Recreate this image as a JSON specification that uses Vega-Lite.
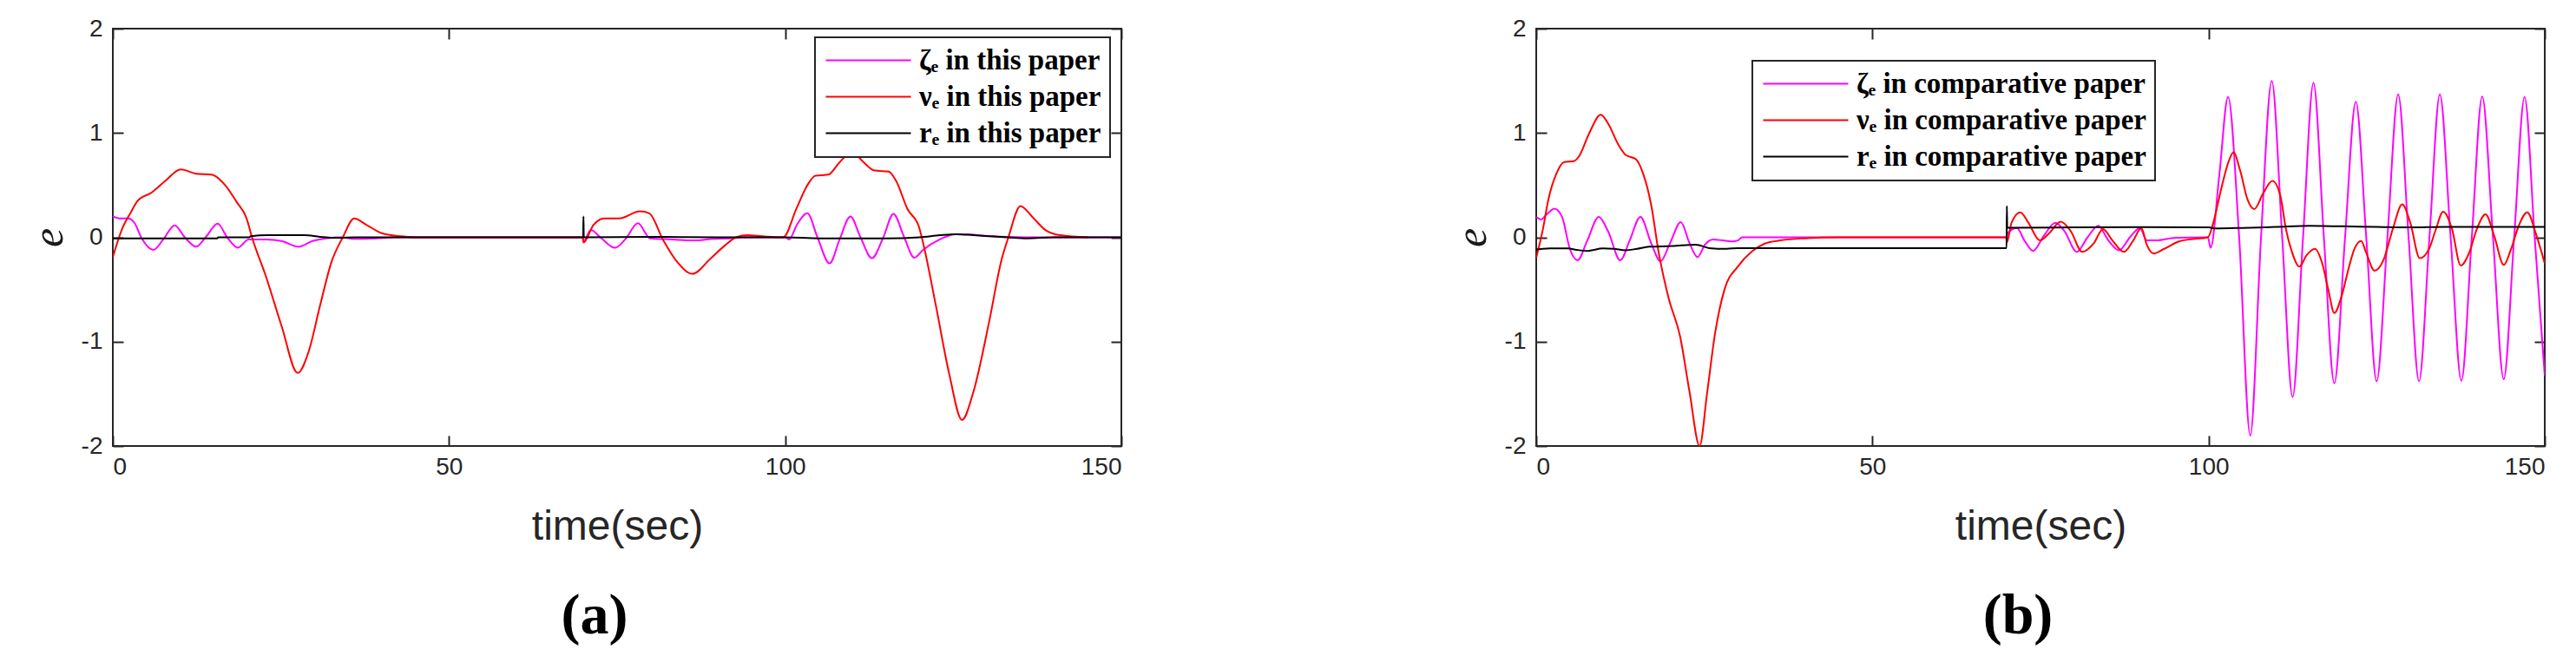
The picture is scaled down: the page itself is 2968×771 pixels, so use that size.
{
  "$schema": "https://vega.github.io/schema/vega-lite/v6.json",
  "background": "white",
  "padding": {"left": 30, "top": 18, "right": 5, "bottom": 0},
  "spacing": 376,
  "config": {
    "view": {"stroke": "#262626", "strokeWidth": 2},
    "axis": {"grid": false, "domain": false, "tickColor": "#262626", "tickWidth": 2, "tickSize": -12,
             "labelFont": "Liberation Sans", "labelFontSize": 28, "labelColor": "#262626",
             "titleFont": "Liberation Sans", "titleFontSize": 48, "titleFontWeight": "normal", "titleColor": "#262626"},
    "legend": {"strokeWidth": 2}
  },
  "resolve": {"scale": {"color": "independent"}},
  "datasets": {
    "a": [
      {"s":"z","t":0,"e":0.2},{"s":"z","t":1.15,"e":0.18},{"s":"z","t":2.3,"e":0.18},{"s":"z","t":3.2,"e":0.14},{"s":"z","t":4.3,"e":-0.01},{"s":"z","t":6.05,"e":-0.12},{"s":"z","t":7.5,"e":-0.02},{"s":"z","t":9.2,"e":0.115},{"s":"z","t":10.7,"e":0},{"s":"z","t":12.4,"e":-0.09},{"s":"z","t":13.8,"e":0},{"s":"z","t":15.6,"e":0.13},{"s":"z","t":17,"e":0},{"s":"z","t":18.6,"e":-0.1},{"s":"z","t":20.2,"e":-0.02},{"s":"z","t":22.8,"e":-0.02},{"s":"z","t":25.1,"e":-0.035},{"s":"z","t":27.6,"e":-0.09},{"s":"z","t":29.7,"e":-0.035},{"s":"z","t":31.7,"e":-0.01},{"s":"z","t":34,"e":0},{"s":"z","t":36,"e":-0.015},{"s":"z","t":39.2,"e":-0.01},{"s":"z","t":42,"e":0},{"s":"z","t":69.9,"e":0},{"s":"z","t":70,"e":-0.04},{"s":"z","t":71.1,"e":0.07},{"s":"z","t":72.5,"e":0},{"s":"z","t":74.7,"e":-0.1},{"s":"z","t":76.2,"e":-0.02},{"s":"z","t":78.1,"e":0.135},{"s":"z","t":79.9,"e":-0.01},{"s":"z","t":83.2,"e":-0.02},{"s":"z","t":86.3,"e":-0.03},{"s":"z","t":89.3,"e":-0.015},{"s":"z","t":91.6,"e":-0.01},{"s":"z","t":94,"e":0},{"s":"z","t":100,"e":0},{"s":"z","t":100.6,"e":-0.02},{"s":"z","t":101.7,"e":0.115},{"s":"z","t":103.3,"e":0.23},{"s":"z","t":104.8,"e":0},{"s":"z","t":106.6,"e":-0.25},{"s":"z","t":108.1,"e":-0.02},{"s":"z","t":109.7,"e":0.2},{"s":"z","t":111.2,"e":0},{"s":"z","t":112.9,"e":-0.2},{"s":"z","t":114.6,"e":0},{"s":"z","t":116.1,"e":0.225},{"s":"z","t":117.7,"e":0},{"s":"z","t":119.2,"e":-0.195},{"s":"z","t":120.5,"e":-0.12},{"s":"z","t":123,"e":-0.02},{"s":"z","t":125.2,"e":0.03},{"s":"z","t":126.9,"e":0.03},{"s":"z","t":129.7,"e":0.015},{"s":"z","t":133.1,"e":0.005},{"s":"z","t":136,"e":0},{"s":"z","t":150,"e":0},
      {"s":"n","t":0,"e":-0.19},{"s":"n","t":1.44,"e":0.09},{"s":"n","t":2.6,"e":0.23},{"s":"n","t":3.7,"e":0.35},{"s":"n","t":5.8,"e":0.43},{"s":"n","t":7.8,"e":0.54},{"s":"n","t":10.1,"e":0.65},{"s":"n","t":12.4,"e":0.61},{"s":"n","t":14.7,"e":0.6},{"s":"n","t":16.7,"e":0.5},{"s":"n","t":18.4,"e":0.34},{"s":"n","t":19.9,"e":0.18},{"s":"n","t":20.7,"e":0},{"s":"n","t":22.8,"e":-0.38},{"s":"n","t":25.1,"e":-0.85},{"s":"n","t":27.5,"e":-1.3},{"s":"n","t":29.1,"e":-1.1},{"s":"n","t":30.8,"e":-0.66},{"s":"n","t":32.5,"e":-0.24},{"s":"n","t":34.2,"e":0},{"s":"n","t":35.9,"e":0.18},{"s":"n","t":37.7,"e":0.12},{"s":"n","t":40,"e":0.04},{"s":"n","t":42.9,"e":0.01},{"s":"n","t":45,"e":0},{"s":"n","t":69.9,"e":0},{"s":"n","t":70,"e":-0.05},{"s":"n","t":71.5,"e":0.12},{"s":"n","t":73.1,"e":0.18},{"s":"n","t":75.3,"e":0.18},{"s":"n","t":78.4,"e":0.25},{"s":"n","t":79.8,"e":0.23},{"s":"n","t":81.8,"e":-0.02},{"s":"n","t":84,"e":-0.24},{"s":"n","t":86.2,"e":-0.35},{"s":"n","t":88.8,"e":-0.21},{"s":"n","t":91,"e":-0.08},{"s":"n","t":92.7,"e":0},{"s":"n","t":94.4,"e":0.02},{"s":"n","t":96.6,"e":0.01},{"s":"n","t":99.7,"e":0},{"s":"n","t":101.7,"e":0.28},{"s":"n","t":103.4,"e":0.51},{"s":"n","t":104.5,"e":0.59},{"s":"n","t":106.4,"e":0.6},{"s":"n","t":108.1,"e":0.72},{"s":"n","t":110,"e":0.82},{"s":"n","t":111.5,"e":0.73},{"s":"n","t":113.3,"e":0.64},{"s":"n","t":115.4,"e":0.63},{"s":"n","t":116.5,"e":0.54},{"s":"n","t":118.2,"e":0.27},{"s":"n","t":119.9,"e":0.1},{"s":"n","t":120.5,"e":-0.05},{"s":"n","t":122.4,"e":-0.65},{"s":"n","t":124.4,"e":-1.31},{"s":"n","t":126.3,"e":-1.75},{"s":"n","t":128,"e":-1.48},{"s":"n","t":130.3,"e":-0.82},{"s":"n","t":132.2,"e":-0.21},{"s":"n","t":133.2,"e":0},{"s":"n","t":135,"e":0.3},{"s":"n","t":136.7,"e":0.2},{"s":"n","t":138.7,"e":0.07},{"s":"n","t":140.9,"e":0.02},{"s":"n","t":145.1,"e":0},
      {"s":"r","t":0,"e":-0.01},{"s":"r","t":15.5,"e":-0.01},{"s":"r","t":15.7,"e":0},{"s":"r","t":20.3,"e":0},{"s":"r","t":20.5,"e":0.01},{"s":"r","t":23,"e":0.02},{"s":"r","t":28.5,"e":0.02},{"s":"r","t":30.8,"e":0.005},{"s":"r","t":33.7,"e":-0.005},{"s":"r","t":36,"e":0},{"s":"r","t":69.95,"e":0},{"s":"r","t":70,"e":0.2},{"s":"r","t":70.05,"e":0},{"s":"r","t":80,"e":0.005},{"s":"r","t":90,"e":0},{"s":"r","t":100,"e":0},{"s":"r","t":105,"e":-0.01},{"s":"r","t":115,"e":-0.01},{"s":"r","t":120,"e":0},{"s":"r","t":123,"e":0.02},{"s":"r","t":125.5,"e":0.03},{"s":"r","t":128,"e":0.02},{"s":"r","t":133,"e":0},{"s":"r","t":136,"e":-0.01},{"s":"r","t":140,"e":0},{"s":"r","t":150,"e":0}
    ],
    "b": [
      {"s":"z","t":0,"e":0.195},{"s":"z","t":0.7,"e":0.17},{"s":"z","t":1.55,"e":0.22},{"s":"z","t":2.7,"e":0.275},{"s":"z","t":3.85,"e":0.195},{"s":"z","t":5,"e":-0.11},{"s":"z","t":6.15,"e":-0.22},{"s":"z","t":7.6,"e":-0.03},{"s":"z","t":9.3,"e":0.195},{"s":"z","t":10.7,"e":0.056},{"s":"z","t":12.5,"e":-0.22},{"s":"z","t":13.9,"e":-0.03},{"s":"z","t":15.5,"e":0.195},{"s":"z","t":17.1,"e":-0.056},{"s":"z","t":18.5,"e":-0.23},{"s":"z","t":19.9,"e":-0.056},{"s":"z","t":21.5,"e":0.145},{"s":"z","t":22.8,"e":-0.056},{"s":"z","t":24,"e":-0.19},{"s":"z","t":25.1,"e":-0.07},{"s":"z","t":26.3,"e":-0.02},{"s":"z","t":27.7,"e":-0.03},{"s":"z","t":29.1,"e":-0.04},{"s":"z","t":30,"e":-0.03},{"s":"z","t":30.6,"e":0},{"s":"z","t":69.9,"e":0},{"s":"z","t":70,"e":-0.03},{"s":"z","t":70.1,"e":0.04},{"s":"z","t":71.5,"e":0.09},{"s":"z","t":72.6,"e":-0.03},{"s":"z","t":73.9,"e":-0.13},{"s":"z","t":75.5,"e":0.015},{"s":"z","t":77.2,"e":0.14},{"s":"z","t":78.6,"e":0.056},{"s":"z","t":80.4,"e":-0.14},{"s":"z","t":82,"e":0},{"s":"z","t":83.6,"e":0.11},{"s":"z","t":85.1,"e":-0.03},{"s":"z","t":86.7,"e":-0.125},{"s":"z","t":88.3,"e":0},{"s":"z","t":89.8,"e":0.09},{"s":"z","t":90.8,"e":-0.03},{"s":"z","t":92.2,"e":-0.03},{"s":"z","t":95.1,"e":-0.005},{"s":"z","t":99.9,"e":0},{"s":"z","t":100.3,"e":-0.1},{"s":"z","t":101.6,"e":0.6},{"s":"z","t":102.9,"e":1.345},{"s":"z","t":104.55,"e":0},{"s":"z","t":106.2,"e":-1.9},{"s":"z","t":107.8,"e":0},{"s":"z","t":109.4,"e":1.5},{"s":"z","t":110.95,"e":0},{"s":"z","t":112.5,"e":-1.53},{"s":"z","t":114.05,"e":0},{"s":"z","t":115.6,"e":1.48},{"s":"z","t":117.15,"e":0},{"s":"z","t":118.7,"e":-1.4},{"s":"z","t":120.3,"e":0},{"s":"z","t":121.9,"e":1.3},{"s":"z","t":123.45,"e":0},{"s":"z","t":125,"e":-1.38},{"s":"z","t":126.6,"e":0},{"s":"z","t":128.2,"e":1.37},{"s":"z","t":129.75,"e":0},{"s":"z","t":131.3,"e":-1.38},{"s":"z","t":132.85,"e":0},{"s":"z","t":134.4,"e":1.37},{"s":"z","t":136,"e":0},{"s":"z","t":137.6,"e":-1.375},{"s":"z","t":139.15,"e":0},{"s":"z","t":140.7,"e":1.35},{"s":"z","t":142.3,"e":0},{"s":"z","t":143.9,"e":-1.36},{"s":"z","t":145.45,"e":0},{"s":"z","t":147,"e":1.345},{"s":"z","t":148.5,"e":0},{"s":"z","t":150,"e":-1.325},
      {"s":"n","t":0,"e":-0.195},{"s":"n","t":1,"e":0.08},{"s":"n","t":1.8,"e":0.36},{"s":"n","t":3,"e":0.61},{"s":"n","t":4.1,"e":0.72},{"s":"n","t":5.6,"e":0.73},{"s":"n","t":6.4,"e":0.78},{"s":"n","t":7.9,"e":1},{"s":"n","t":9.6,"e":1.175},{"s":"n","t":10.7,"e":1.09},{"s":"n","t":12.2,"e":0.89},{"s":"n","t":13.3,"e":0.79},{"s":"n","t":14.8,"e":0.75},{"s":"n","t":15.9,"e":0.61},{"s":"n","t":17.1,"e":0.31},{"s":"n","t":18.2,"e":-0.14},{"s":"n","t":19.7,"e":-0.585},{"s":"n","t":21.4,"e":-0.95},{"s":"n","t":22.8,"e":-1.48},{"s":"n","t":24.3,"e":-2},{"s":"n","t":25.4,"e":-1.5},{"s":"n","t":26.6,"e":-0.92},{"s":"n","t":28,"e":-0.5},{"s":"n","t":30,"e":-0.28},{"s":"n","t":32,"e":-0.14},{"s":"n","t":34,"e":-0.06},{"s":"n","t":36.3,"e":-0.03},{"s":"n","t":39.8,"e":-0.01},{"s":"n","t":44.9,"e":0},{"s":"n","t":69.9,"e":0},{"s":"n","t":70,"e":-0.05},{"s":"n","t":70.7,"e":0.14},{"s":"n","t":72,"e":0.24},{"s":"n","t":73.2,"e":0.14},{"s":"n","t":74.9,"e":-0.03},{"s":"n","t":76.3,"e":0.04},{"s":"n","t":78,"e":0.15},{"s":"n","t":79.5,"e":0.06},{"s":"n","t":81.2,"e":-0.14},{"s":"n","t":82.9,"e":-0.06},{"s":"n","t":84.3,"e":0.08},{"s":"n","t":85.7,"e":-0.03},{"s":"n","t":87.4,"e":-0.14},{"s":"n","t":88.8,"e":-0.03},{"s":"n","t":90,"e":0.09},{"s":"n","t":90.8,"e":-0.07},{"s":"n","t":91.8,"e":-0.155},{"s":"n","t":93.4,"e":-0.11},{"s":"n","t":95.6,"e":-0.04},{"s":"n","t":97.9,"e":-0.015},{"s":"n","t":99.9,"e":0},{"s":"n","t":100.7,"e":0.14},{"s":"n","t":101.9,"e":0.47},{"s":"n","t":103,"e":0.73},{"s":"n","t":103.7,"e":0.815},{"s":"n","t":104.7,"e":0.64},{"s":"n","t":105.8,"e":0.36},{"s":"n","t":106.8,"e":0.27},{"s":"n","t":108.1,"e":0.42},{"s":"n","t":109.5,"e":0.54},{"s":"n","t":110.7,"e":0.39},{"s":"n","t":111.5,"e":0.08},{"s":"n","t":112.4,"e":-0.14},{"s":"n","t":113.5,"e":-0.28},{"s":"n","t":114.6,"e":-0.17},{"s":"n","t":115.8,"e":-0.11},{"s":"n","t":116.9,"e":-0.25},{"s":"n","t":117.8,"e":-0.5},{"s":"n","t":118.7,"e":-0.725},{"s":"n","t":119.8,"e":-0.56},{"s":"n","t":120.9,"e":-0.28},{"s":"n","t":121.7,"e":-0.11},{"s":"n","t":122.7,"e":-0.035},{"s":"n","t":123.4,"e":-0.14},{"s":"n","t":124.7,"e":-0.32},{"s":"n","t":126,"e":-0.22},{"s":"n","t":127.4,"e":0.08},{"s":"n","t":128.8,"e":0.315},{"s":"n","t":130,"e":0.14},{"s":"n","t":131.4,"e":-0.2},{"s":"n","t":132.8,"e":-0.11},{"s":"n","t":133.7,"e":0.056},{"s":"n","t":134.9,"e":0.245},{"s":"n","t":136.2,"e":0.08},{"s":"n","t":137.5,"e":-0.27},{"s":"n","t":138.8,"e":-0.14},{"s":"n","t":139.9,"e":0.08},{"s":"n","t":141.2,"e":0.22},{"s":"n","t":142.5,"e":0.01},{"s":"n","t":143.9,"e":-0.265},{"s":"n","t":145,"e":-0.11},{"s":"n","t":146.1,"e":0.106},{"s":"n","t":147.4,"e":0.24},{"s":"n","t":148.7,"e":0.03},{"s":"n","t":150,"e":-0.25},
      {"s":"r","t":0,"e":-0.117},{"s":"r","t":2,"e":-0.106},{"s":"r","t":4.7,"e":-0.106},{"s":"r","t":6,"e":-0.12},{"s":"r","t":7.6,"e":-0.13},{"s":"r","t":9.9,"e":-0.106},{"s":"r","t":11.5,"e":-0.11},{"s":"r","t":13.3,"e":-0.125},{"s":"r","t":15,"e":-0.11},{"s":"r","t":16.8,"e":-0.09},{"s":"r","t":20.2,"e":-0.084},{"s":"r","t":23.7,"e":-0.07},{"s":"r","t":24.5,"e":-0.08},{"s":"r","t":25.7,"e":-0.103},{"s":"r","t":28.3,"e":-0.11},{"s":"r","t":30,"e":-0.103},{"s":"r","t":69.95,"e":-0.103},{"s":"r","t":70,"e":0.3},{"s":"r","t":70.05,"e":0.092},{"s":"r","t":80,"e":0.095},{"s":"r","t":90,"e":0.098},{"s":"r","t":100,"e":0.095},{"s":"r","t":101,"e":0.085},{"s":"r","t":105,"e":0.09},{"s":"r","t":110,"e":0.1},{"s":"r","t":115,"e":0.11},{"s":"r","t":120,"e":0.105},{"s":"r","t":125,"e":0.1},{"s":"r","t":130,"e":0.095},{"s":"r","t":135,"e":0.1},{"s":"r","t":140,"e":0.1},{"s":"r","t":145,"e":0.1},{"s":"r","t":150,"e":0.1}
    ]
  },
  "hconcat": [
    {
      "width": 1162, "height": 481,
      "data": {"name": "a"},
      "title": {"text": "(a)", "orient": "bottom", "anchor": "middle", "font": "Liberation Serif", "fontSize": 66, "fontWeight": "bold", "color": "black", "offset": 47, "dx": -26},
      "layer": [
        {
          "mark": {"type": "line", "interpolate": "monotone", "strokeWidth": 2, "clip": true},
          "encoding": {
            "x": {"field": "t", "type": "quantitative", "scale": {"domain": [0, 150], "nice": false, "zero": false},
                  "axis": {"orient": "bottom", "values": [0, 50, 100, 150], "title": "time(sec)", "labelPadding": 22, "titlePadding": 31}},
            "y": {"field": "e", "type": "quantitative", "scale": {"domain": [-2, 2], "nice": false},
                  "axis": {"orient": "left", "values": [-2, -1, 0, 1, 2], "labelExpr": "'' + datum.value", "title": "e", "titleFont": "Liberation Serif", "titleFontStyle": "italic", "titleFontSize": 50, "titleColor": "#1a1a1a", "labelPadding": 24, "titlePadding": 12}},
            "color": {"field": "s", "type": "nominal",
                      "scale": {"domain": ["z", "n", "r"], "range": ["#ff00ff", "#ff0000", "#000000"]},
                      "legend": {"orient": "none", "legendX": 809, "legendY": 10, "title": null,
                                 "labelExpr": "datum.value == 'z' ? 'ζₑ in this paper' : datum.value == 'n' ? 'νₑ in this paper' : 'rₑ in this paper'",
                                 "labelFont": "Liberation Serif", "labelFontSize": 33, "labelFontWeight": "bold", "labelColor": "black", "labelLimit": 0,
                                 "symbolType": "M-1,0H6", "symbolSize": 784, "symbolStrokeWidth": 2, "labelOffset": 77,
                                 "rowPadding": 8, "padding": 10, "strokeColor": "#262626", "fillColor": "white"}}
          }
        },
        {
          "mark": {"type": "line", "opacity": 0},
          "encoding": {
            "x": {"field": "t", "type": "quantitative", "axis": {"orient": "top", "values": [0, 50, 100, 150], "labels": false, "title": null}},
            "y": {"field": "e", "type": "quantitative", "axis": {"orient": "right", "values": [-2, -1, 0, 1, 2], "labels": false, "title": null}}
          }
        }
      ],
      "resolve": {"axis": {"x": "independent", "y": "independent"}}
    },
    {
      "width": 1162, "height": 481,
      "data": {"name": "b"},
      "title": {"text": "(b)", "orient": "bottom", "anchor": "middle", "font": "Liberation Serif", "fontSize": 66, "fontWeight": "bold", "color": "black", "offset": 47, "dx": -26},
      "layer": [
        {
          "mark": {"type": "line", "interpolate": "monotone", "strokeWidth": 2, "clip": true},
          "encoding": {
            "x": {"field": "t", "type": "quantitative", "scale": {"domain": [0, 150], "nice": false, "zero": false},
                  "axis": {"orient": "bottom", "values": [0, 50, 100, 150], "title": "time(sec)", "labelPadding": 22, "titlePadding": 31}},
            "y": {"field": "e", "type": "quantitative", "scale": {"domain": [-2, 2], "nice": false},
                  "axis": {"orient": "left", "values": [-2, -1, 0, 1, 2], "labelExpr": "'' + datum.value", "title": "e", "titleFont": "Liberation Serif", "titleFontStyle": "italic", "titleFontSize": 50, "titleColor": "#1a1a1a", "labelPadding": 24, "titlePadding": 12}},
            "color": {"field": "s", "type": "nominal",
                      "scale": {"domain": ["z", "n", "r"], "range": ["#ff00ff", "#ff0000", "#000000"]},
                      "legend": {"orient": "none", "legendX": 249, "legendY": 37, "title": null,
                                 "labelExpr": "datum.value == 'z' ? 'ζₑ in comparative paper' : datum.value == 'n' ? 'νₑ in comparative paper' : 'rₑ in comparative paper'",
                                 "labelFont": "Liberation Serif", "labelFontSize": 33, "labelFontWeight": "bold", "labelColor": "black", "labelLimit": 0,
                                 "symbolType": "M-1,0H6", "symbolSize": 784, "symbolStrokeWidth": 2, "labelOffset": 77,
                                 "rowPadding": 8, "padding": 10, "strokeColor": "#262626", "fillColor": "white"}}
          }
        },
        {
          "mark": {"type": "line", "opacity": 0},
          "encoding": {
            "x": {"field": "t", "type": "quantitative", "axis": {"orient": "top", "values": [0, 50, 100, 150], "labels": false, "title": null}},
            "y": {"field": "e", "type": "quantitative", "axis": {"orient": "right", "values": [-2, -1, 0, 1, 2], "labels": false, "title": null}}
          }
        }
      ],
      "resolve": {"axis": {"x": "independent", "y": "independent"}}
    }
  ]
}
